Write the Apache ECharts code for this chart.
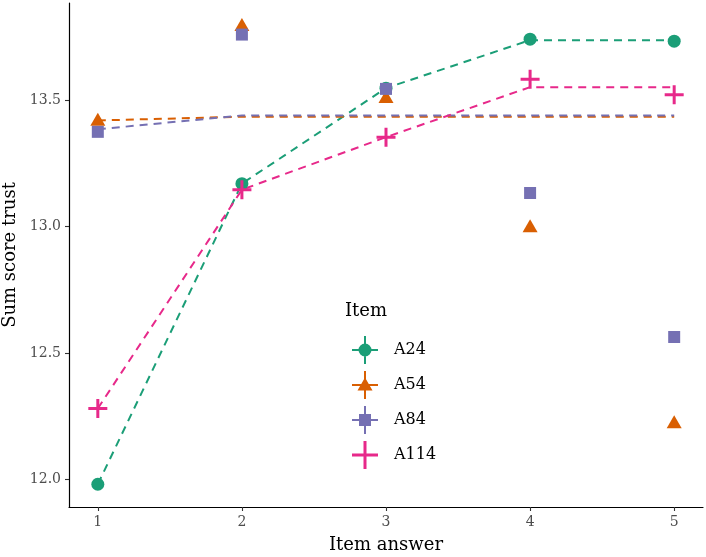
<!DOCTYPE html>
<html>
<head>
<meta charset="utf-8">
<script src="https://cdn.jsdelivr.net/npm/echarts@6/dist/echarts.min.js"></script>
<style>
  html, body { margin: 0; padding: 0; background: #fff; }
  #chart { width: 706px; height: 557px; }
</style>
</head>
<body>
<div id="chart"></div>
<script>
// item answers on the x axis
const answers = [1, 2, 3, 4, 5];
const items = ['A24', 'A54', 'A84', 'A114'];
const yTicks = [12.0, 12.5, 13.0, 13.5];

// mean sum score per answer (points)
const meanA24 = [11.98, 13.17, 13.548, 13.742, 13.734];
const meanA54 = [13.425, 13.80, 13.515, 13.003, 12.227];
const meanA84 = [13.375, 13.76, 13.545, 13.133, 12.563];
const meanA114 = [12.28, 13.146, 13.354, 13.583, 13.522];

// fitted (monotone) values, dashed lines
const fitA24 = [11.98, 13.17, 13.548, 13.738, 13.738];
const fitA54 = [13.42, 13.435, 13.435, 13.435, 13.435];
const fitA84 = [13.385, 13.44, 13.44, 13.44, 13.44];
const fitA114 = [12.28, 13.146, 13.354, 13.552, 13.552];

const means = [meanA24, meanA54, meanA84, meanA114];
const fits = [fitA24, fitA54, fitA84, fitA114];
const colors = ['#1B9E77', '#D95F02', '#7570B3', '#E7298A'];
const symbols = [
  { symbol: 'circle', size: 13 },
  { symbol: 'triangle', size: [15, 13] },
  { symbol: 'rect', size: 12 },
  { symbol: 'path://M0,8H19V11H0Z M8,0H11V19H8Z', size: 19 }
];
// legend keys: point + horizontal and vertical bar
const legendIcons = [
  'path://M0,13H26V15H0Z M12,0H14V28H12Z M6.5,14A6.5,6.5 0 1 1 19.5,14A6.5,6.5 0 1 1 6.5,14Z',
  'path://M0,13H26V15H0Z M12,0H14V28H12Z M13,6.5L20.5,19.5H5.5Z',
  'path://M0,13H26V15H0Z M12,0H14V28H12Z M7,8H19V20H7Z',
  'path://M0,12.5H26V15.5H0Z M11.5,0H14.5V28H11.5Z'
];

const serif = 'DejaVu Serif';
const zip = (xs, ys) => xs.map((x, i) => [x, ys[i]]);

const series = [];
items.forEach((name, i) => {
  series.push({
    name: name + ' fit',
    type: 'line',
    data: zip(answers, fits[i]),
    showSymbol: false,
    silent: true,
    z: 2,
    lineStyle: { color: colors[i], width: 2, type: [8, 6] },
    animation: false
  });
});
items.forEach((name, i) => {
  series.push({
    name: name,
    type: 'scatter',
    data: zip(answers, means[i]),
    symbol: symbols[i].symbol,
    symbolSize: symbols[i].size,
    itemStyle: { color: colors[i], opacity: 1 },
    z: 3 + i,
    animation: false
  });
});

const chart = echarts.init(document.getElementById('chart'));
chart.setOption({
  animation: false,
  color: colors,
  title: {
    text: 'Item',
    left: 340,
    top: 297,
    textStyle: { fontFamily: serif, fontSize: 18, fontWeight: 'normal', color: '#000' }
  },
  legend: {
    orient: 'vertical',
    left: 347,
    top: 331,
    itemWidth: 26,
    itemHeight: 28,
    itemGap: 7,
    data: items.map((n, i) => ({ name: n, icon: legendIcons[i] })),
    itemStyle: { borderWidth: 0 },
    textStyle: { fontFamily: serif, fontSize: 16, color: '#000', padding: [0, 0, 0, 11] }
  },
  grid: { left: 69, right: 3, top: 3, bottom: 50, containLabel: false, outerBoundsMode: 'none' },
  xAxis: {
    type: 'value',
    min: 0.8,
    max: 5.2,
    name: 'Item answer',
    nameLocation: 'middle',
    nameGap: 29,
    nameTextStyle: { fontFamily: serif, fontSize: 18, color: '#000' },
    axisLine: { show: true, lineStyle: { color: '#000', width: 1.2 } },
    axisTick: { show: true, length: 4, customValues: answers, lineStyle: { color: '#333', width: 1.1 } },
    axisLabel: {
      customValues: answers,
      margin: 8,
      fontFamily: serif,
      fontSize: 14,
      color: '#4d4d4d',
      formatter: v => String(v)
    },
    splitLine: { show: false }
  },
  yAxis: {
    type: 'value',
    min: 11.89,
    max: 13.885,
    name: 'Sum score trust',
    nameLocation: 'middle',
    nameGap: 46,
    nameRotate: 90,
    nameTextStyle: { fontFamily: serif, fontSize: 18, color: '#000' },
    axisLine: { show: true, lineStyle: { color: '#000', width: 1.2 } },
    axisTick: { show: true, length: 4, customValues: yTicks, lineStyle: { color: '#333', width: 1.1 } },
    axisLabel: {
      customValues: yTicks,
      margin: 8,
      fontFamily: serif,
      fontSize: 14,
      color: '#4d4d4d',
      formatter: v => v.toFixed(1)
    },
    splitLine: { show: false }
  },
  series: series
});
</script>
</body>
</html>
